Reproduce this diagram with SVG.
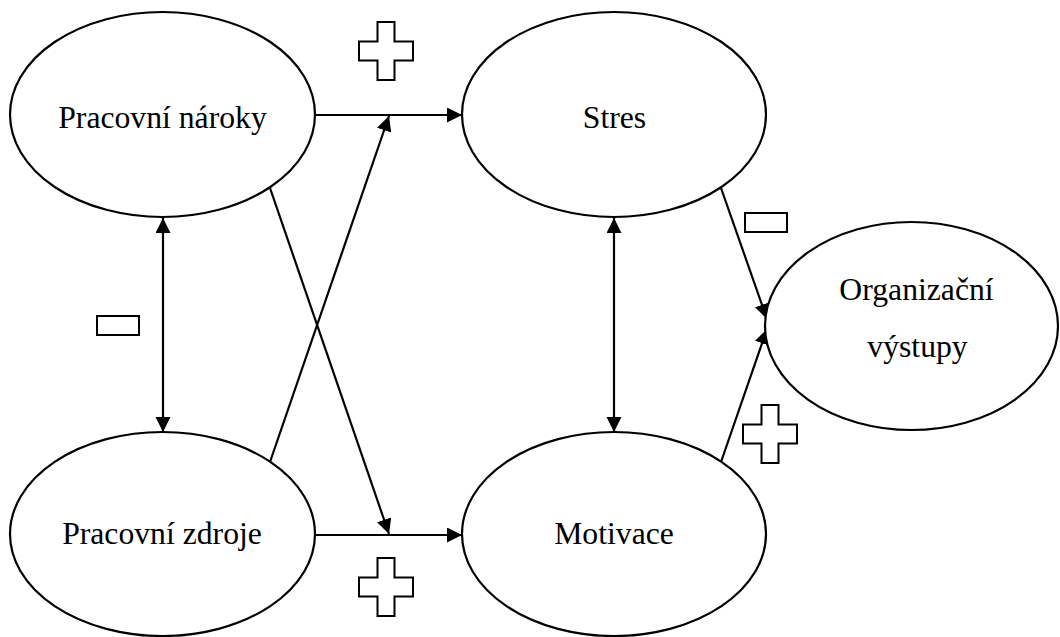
<svg xmlns="http://www.w3.org/2000/svg" width="1060" height="637" viewBox="0 0 1060 637">
<style>
.node ellipse{fill:#fff;stroke:#000;stroke-width:2.2}
.node text{font-family:'Liberation Serif','Times New Roman',serif;font-size:31.7px;fill:#000;text-anchor:middle}
.conn line{stroke:#000;stroke-width:2.2;fill:none}
.sign{fill:#fff;stroke:#000;stroke-width:2}
</style>
<defs>
<marker id="ah" markerUnits="userSpaceOnUse" markerWidth="16" markerHeight="16" refX="15" refY="7.5" orient="auto-start-reverse" viewBox="0 0 16 16">
<path d="M0,0 L15,7.5 L0,15 Z" fill="#000"/>
</marker>
<path id="plus" d="M-8.5,-29 H8.5 V-9.5 H27 V9.5 H8.5 V29 H-8.5 V9.5 H-27 V-9.5 H-8.5 Z"/>
</defs>
<rect width="1060" height="637" fill="#fff"/>
<g id="connectors" class="conn">
<line x1="315" y1="115" x2="462" y2="115" marker-end="url(#ah)"/>
<line x1="315" y1="535" x2="462" y2="535" marker-end="url(#ah)"/>
<line x1="163" y1="218" x2="163" y2="432" marker-start="url(#ah)" marker-end="url(#ah)"/>
<line x1="614" y1="218" x2="614" y2="432" marker-start="url(#ah)" marker-end="url(#ah)"/>
<line x1="270" y1="462" x2="389" y2="116" marker-end="url(#ah)"/>
<line x1="270" y1="188" x2="389" y2="534" marker-end="url(#ah)"/>
<line x1="721" y1="188" x2="767" y2="319" marker-end="url(#ah)"/>
<line x1="721" y1="462" x2="767" y2="329" marker-end="url(#ah)"/>
</g>
<g id="node-narok" class="node">
<ellipse cx="162.5" cy="114.5" rx="152.5" ry="102.5"/>
<text x="162.5" y="128">Pracovní nároky</text>
</g>
<g id="node-zdroje" class="node">
<ellipse cx="162.5" cy="534" rx="152.5" ry="102"/>
<text x="162" y="544">Pracovní zdroje</text>
</g>
<g id="node-stres" class="node">
<ellipse cx="614" cy="114.5" rx="152" ry="102.5"/>
<text x="614.5" y="128">Stres</text>
</g>
<g id="node-motivace" class="node">
<ellipse cx="614" cy="534" rx="152" ry="102"/>
<text x="614" y="544">Motivace</text>
</g>
<g id="node-vystupy" class="node">
<ellipse cx="911.5" cy="326" rx="146.5" ry="104"/>
<text x="916.5" y="300">Organizační</text>
<text x="917.5" y="357">výstupy</text>
</g>
<g id="signs">
<use href="#plus" class="sign" x="386" y="51"/>
<use href="#plus" class="sign" x="386" y="587"/>
<use href="#plus" class="sign" x="770" y="434"/>
<rect class="sign" x="97" y="316" width="42" height="19"/>
<rect class="sign" x="745" y="213" width="42" height="19"/>
</g>
</svg>
